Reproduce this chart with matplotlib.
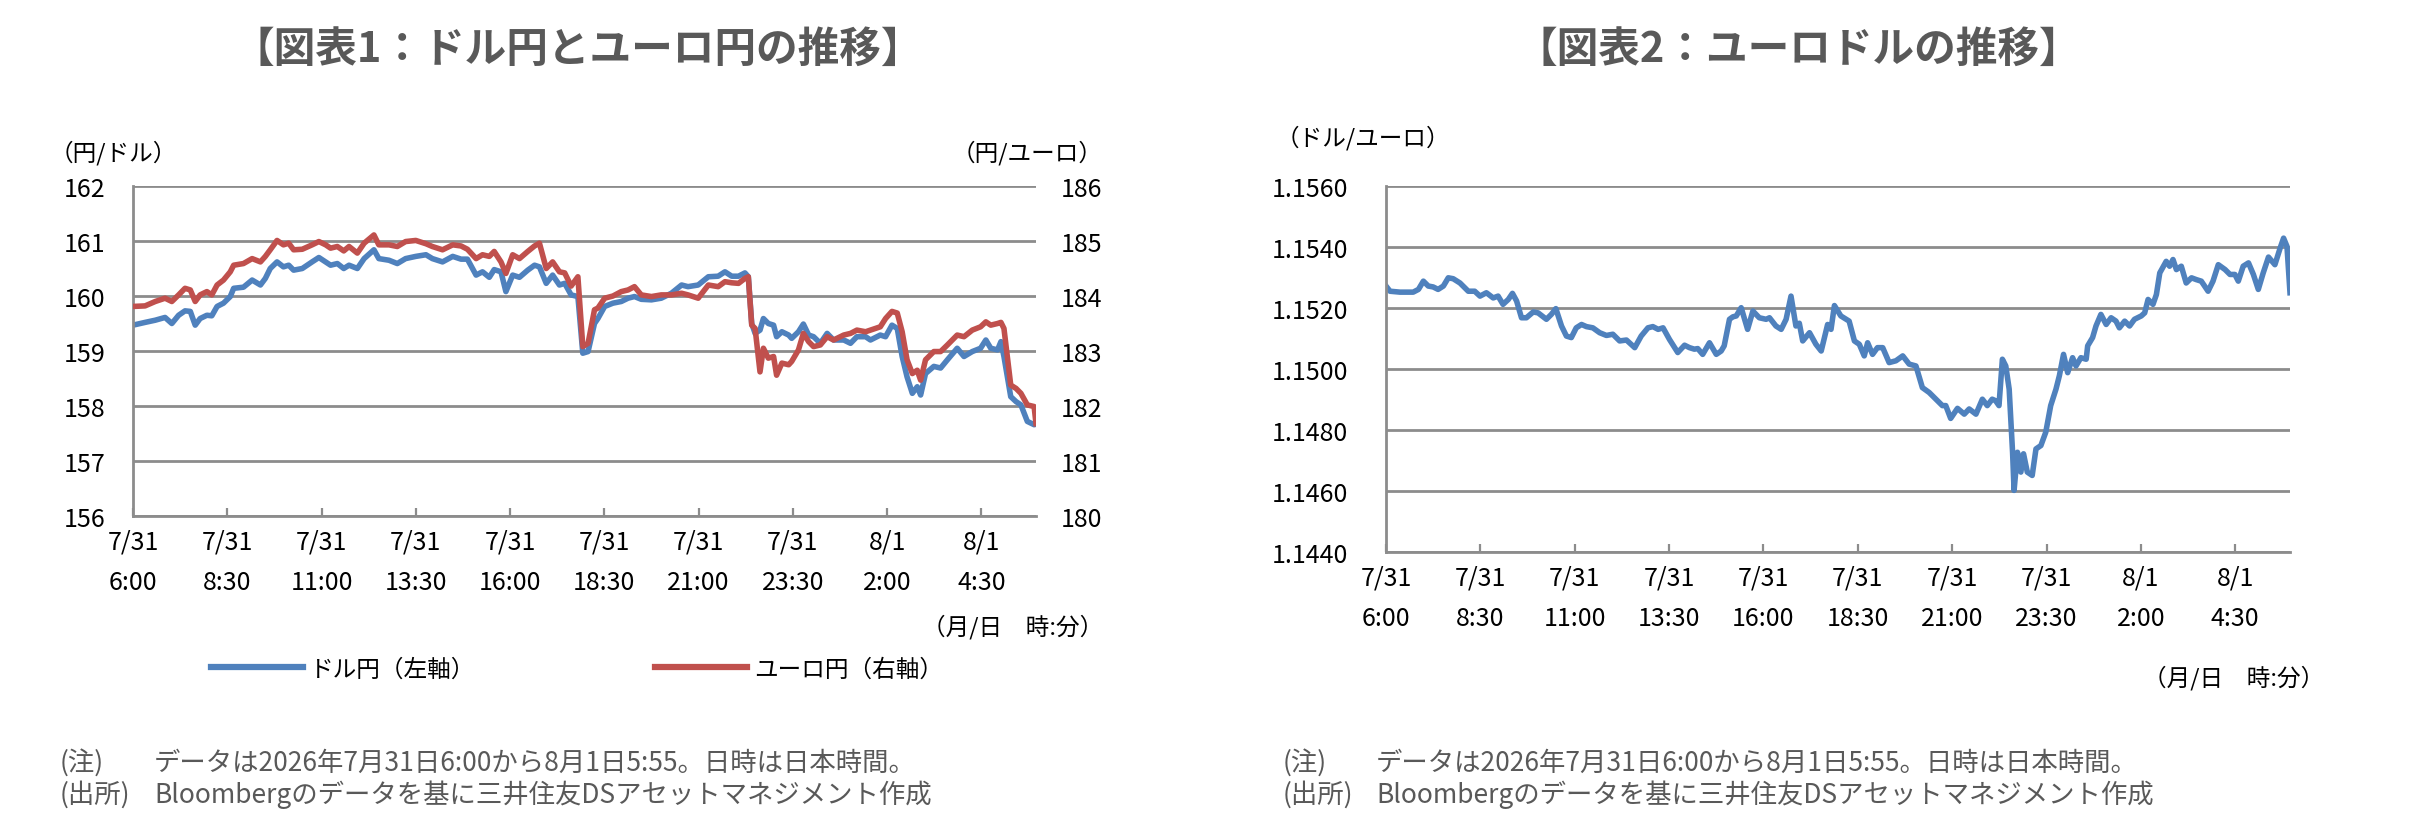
import matplotlib
matplotlib.use("Agg")
import matplotlib.pyplot as plt
from matplotlib.ticker import FixedLocator, FormatStrFormatter

plt.rcParams['font.family'] = ['Noto Sans CJK JP', 'DejaVu Sans']

# ---------------- data ----------------
# hours elapsed since 7/31 6:00 (JST)
jpy_hours = [0.0, 0.32, 0.59, 0.85, 1.03, 1.21, 1.38, 1.52, 1.65, 1.78, 1.96, 2.09, 2.23, 2.4, 2.58, 2.67,
             2.93, 3.16, 3.38, 3.51, 3.64, 3.82, 3.99, 4.13, 4.26, 4.49, 4.75, 4.93, 5.11, 5.24, 5.42, 5.59,
             5.73, 5.95, 6.13, 6.39, 6.52, 6.79, 7.01, 7.23, 7.5, 7.77, 7.94, 8.21,
             8.48, 8.70, 8.87, 9.10, 9.27, 9.45, 9.58, 9.76, 9.89, 10.07, 10.25, 10.47, 10.65, 10.78, 10.96,
             11.13, 11.31, 11.45, 11.62, 11.80, 11.93, 12.07, 12.24, 12.33, 12.51, 12.73, 12.95, 13.13, 13.30,
             13.48, 13.75, 14.01, 14.28, 14.55, 14.72, 14.99, 15.26, 15.52, 15.70, 15.88, 16.06, 16.23,
             16.32, 16.41, 16.50, 16.63, 16.72, 16.85, 16.99, 17.07, 17.21, 17.39, 17.47, 17.65, 17.78, 17.92,
             18.05, 18.23, 18.41, 18.58, 18.85, 19.03, 19.20, 19.43, 19.56, 19.82, 19.96, 20.13, 20.27, 20.40,
             20.53, 20.67, 20.80, 20.89, 21.02, 21.24, 21.42, 21.60, 21.86, 22.04, 22.26, 22.48, 22.62, 22.75,
             22.93, 23.02, 23.10, 23.28, 23.42, 23.55, 23.72, 23.90, 23.95]

usdjpy = [159.47, 159.52, 159.56, 159.61, 159.50, 159.65, 159.73, 159.72, 159.47, 159.59, 159.65, 159.64,
          159.81, 159.87, 159.99, 160.14, 160.16, 160.29, 160.20, 160.32, 160.50, 160.62, 160.53, 160.56,
          160.47, 160.50, 160.62, 160.70, 160.62, 160.56, 160.59, 160.50, 160.56, 160.50, 160.68, 160.84,
          160.68, 160.65, 160.59, 160.68, 160.72, 160.75, 160.68, 160.62,
          160.72, 160.67, 160.67, 160.38, 160.44, 160.34, 160.48, 160.44, 160.08, 160.38, 160.34, 160.47,
          160.56, 160.53, 160.23, 160.38, 160.20, 160.23, 160.02, 159.99, 158.96, 158.99, 159.50, 159.59,
          159.81, 159.87, 159.90, 159.96, 159.99, 159.94, 159.93, 159.96, 160.05, 160.20, 160.17, 160.20,
          160.35, 160.36, 160.44, 160.36, 160.36, 160.42,
          160.35, 159.50, 159.32, 159.38, 159.59, 159.50, 159.47, 159.26, 159.35, 159.29, 159.23, 159.35,
          159.49, 159.29, 159.26, 159.14, 159.32, 159.20, 159.20, 159.14, 159.26, 159.26, 159.20, 159.29,
          159.26, 159.47, 159.41, 158.90, 158.53, 158.23, 158.35, 158.20, 158.59, 158.72, 158.69, 158.84,
          159.05, 158.90, 158.99, 159.05, 159.20, 159.05, 159.02, 159.17, 158.90, 158.17, 158.08, 158.02,
          157.72, 157.66, 157.67]

eurjpy = [183.81, 183.82, 183.90, 183.96, 183.90, 184.02, 184.14, 184.11, 183.90, 184.02, 184.08, 184.02,
          184.20, 184.29, 184.44, 184.56, 184.59, 184.68, 184.62, 184.72, 184.84, 185.01, 184.93, 184.96,
          184.84, 184.85, 184.93, 184.99, 184.93, 184.87, 184.90, 184.82, 184.90, 184.78, 184.96, 185.11,
          184.93, 184.93, 184.90, 184.99, 185.01, 184.95, 184.90, 184.84,
          184.93, 184.91, 184.85, 184.68, 184.75, 184.72, 184.81, 184.62, 184.41, 184.75, 184.68, 184.81,
          184.91, 184.96, 184.50, 184.62, 184.44, 184.42, 184.18, 184.35, 183.08, 183.14, 183.75, 183.78,
          183.96, 184.00, 184.08, 184.11, 184.17, 184.02, 183.99, 184.02, 184.02, 184.05, 184.02, 183.96,
          184.20, 184.17, 184.26, 184.24, 184.23, 184.32,
          184.35, 183.47, 183.41, 182.62, 183.05, 182.87, 182.90, 182.56, 182.78, 182.75, 182.81, 183.02,
          183.32, 183.17, 183.08, 183.11, 183.26, 183.20, 183.29, 183.32, 183.38, 183.35, 183.38, 183.44,
          183.59, 183.72, 183.69, 183.35, 182.84, 182.59, 182.65, 182.47, 182.84, 182.99, 182.99, 183.11,
          183.29, 183.26, 183.38, 183.44, 183.53, 183.47, 183.50, 183.52, 183.41, 182.38, 182.32, 182.23,
          182.02, 181.99, 181.68]

usd_hours = [0.0, 0.106, 0.37, 0.72, 0.86, 0.99, 1.12, 1.25, 1.38, 1.52, 1.65, 1.78, 1.96, 2.18, 2.35, 2.49,
             2.66, 2.84, 2.97, 3.10, 3.24, 3.35, 3.46, 3.59, 3.72, 3.90, 4.03, 4.25, 4.38, 4.50, 4.65, 4.78,
             4.91, 5.04, 5.18, 5.31, 5.48, 5.66, 5.84, 6.01, 6.19, 6.37, 6.59, 6.76, 6.94, 7.07, 7.21, 7.34,
             7.51, 7.73, 7.91, 8.04,
             8.17, 8.26, 8.39, 8.57, 8.75, 8.88, 8.96, 9.10, 9.19, 9.28, 9.41, 9.58, 9.72, 9.89, 10.07, 10.16,
             10.33, 10.47, 10.60, 10.73, 10.86, 10.95, 11.04, 11.22, 11.39, 11.53, 11.70, 11.79, 11.88, 12.05,
             12.27, 12.41, 12.54, 12.67, 12.76, 12.89, 13.02, 13.16, 13.33, 13.51, 13.69, 13.86, 14.04, 14.21,
             14.39, 14.57, 14.74, 14.83, 14.96, 15.14, 15.32, 15.45, 15.63, 15.80,
             15.93, 16.06, 16.15, 16.24, 16.33, 16.42, 16.51, 16.60, 16.64, 16.73, 16.82, 16.89, 16.99, 17.12,
             17.22, 17.35, 17.48, 17.61, 17.75, 17.84, 17.95, 18.06, 18.19, 18.28, 18.41, 18.55, 18.59, 18.72,
             18.81, 18.94, 19.08, 19.21, 19.34, 19.43, 19.57, 19.70, 19.83, 20.01, 20.10, 20.19, 20.32, 20.41,
             20.50, 20.67, 20.76, 20.85, 20.94, 21.07, 21.20, 21.34, 21.47, 21.60, 21.78, 21.91, 22.05, 22.23,
             22.36, 22.49, 22.58, 22.71, 22.85, 22.98, 23.11, 23.24, 23.38, 23.55, 23.69, 23.78, 23.87, 23.95]

eurusd = [1.15272, 1.15255, 1.15252, 1.15252, 1.15261, 1.15288, 1.15272, 1.15269, 1.15261, 1.15272,
          1.15299, 1.15296, 1.15282, 1.15255, 1.15255, 1.15239, 1.15250, 1.15233, 1.15239, 1.15212,
          1.15228, 1.15248, 1.15223, 1.15168, 1.15168, 1.15187, 1.15184, 1.15163, 1.15179, 1.15198,
          1.15141, 1.15108, 1.15103, 1.15135, 1.15146, 1.15139, 1.15135, 1.15119, 1.15110, 1.15114,
          1.15092, 1.15095, 1.15070, 1.15108, 1.15135, 1.15139, 1.15130, 1.15135, 1.15097, 1.15054,
          1.15078, 1.15070,
          1.15065, 1.15067, 1.15048, 1.15086, 1.15048, 1.15059, 1.15076, 1.15163, 1.15171, 1.15174,
          1.15201, 1.15130, 1.15190, 1.15168, 1.15163, 1.15168, 1.15141, 1.15130, 1.15163, 1.15239,
          1.15141, 1.15150, 1.15092, 1.15119, 1.15081, 1.15059, 1.15146, 1.15130, 1.15208, 1.15174,
          1.15157, 1.15092, 1.15081, 1.15043, 1.15086, 1.15048, 1.15070, 1.15070, 1.15021, 1.15027,
          1.15043, 1.15016, 1.15010, 1.14939, 1.14923, 1.14901, 1.14880, 1.14880, 1.14838, 1.14871,
          1.14852, 1.14869, 1.14852, 1.14901,
          1.14880, 1.14901, 1.14896, 1.14880, 1.15032, 1.15010, 1.14934, 1.14727, 1.14602, 1.14727,
          1.14662, 1.14722, 1.14662, 1.14651, 1.14738, 1.14749, 1.14793, 1.14880, 1.14934, 1.14978,
          1.15048, 1.14988, 1.15037, 1.15010, 1.15037, 1.15032, 1.15076, 1.15103, 1.15141, 1.15179,
          1.15146, 1.15168, 1.15157, 1.15135, 1.15157, 1.15141, 1.15163, 1.15174, 1.15184, 1.15228,
          1.15212, 1.15244, 1.15315, 1.15353, 1.15337, 1.15359, 1.15326, 1.15337, 1.15282, 1.15299,
          1.15293, 1.15288, 1.15255, 1.15288, 1.15342, 1.15326, 1.15310, 1.15310, 1.15288, 1.15337,
          1.15348, 1.15310, 1.15261, 1.15315, 1.15367, 1.15342, 1.15397, 1.15429, 1.15402, 1.15250]

tick_hours = [0, 2.5, 5, 7.5, 10, 12.5, 15, 17.5, 20, 22.5]
tick_dates = ['7/31', '7/31', '7/31', '7/31', '7/31', '7/31', '7/31', '7/31', '8/1', '8/1']
tick_times = ['6:00', '8:30', '11:00', '13:30', '16:00', '18:30', '21:00', '23:30', '2:00', '4:30']
tick_labels = [d + '\n' + t for d, t in zip(tick_dates, tick_times)]

usdjpy_ticks = [156, 157, 158, 159, 160, 161, 162]
eurjpy_ticks = [180, 181, 182, 183, 184, 185, 186]
eurusd_ticks = [1.1440, 1.1460, 1.1480, 1.1500, 1.1520, 1.1540, 1.1560]

title1 = '【図表1：ドル円とユーロ円の推移】'
title2 = '【図表2：ユーロドルの推移】'
label_usd = 'ドル円（左軸）'
label_eur = 'ユーロ円（右軸）'
note_head = '(注)'
note_text = 'データは2026年7月31日6:00から8月1日5:55。日時は日本時間。'
src_head = '(出所)'
src_text = 'Bloombergのデータを基に三井住友DSアセットマネジメント作成'

# ---------------- style ----------------
W, H = 2419, 828
BLUE = '#4F81BD'
RED = '#C0504D'
GRID = '#8C8C8C'
TXTGRAY = '#595959'
LW = 4.0
TICKFS = 18
LABFS = 17
NOTEFS = 19

fig = plt.figure(figsize=(W / 100, H / 100), dpi=100)


def fx(px):
    return px / W


def fy(py):
    return 1 - py / H


def style_axis(ax, xmax):
    ax.set_xlim(0, xmax)
    for s in ['top', 'right']:
        ax.spines[s].set_visible(False)
    for s in ['left', 'bottom']:
        ax.spines[s].set_color(GRID)
        ax.spines[s].set_linewidth(2.0)
    ax.xaxis.set_major_locator(FixedLocator(tick_hours))
    ax.set_xticklabels(tick_labels)
    ax.tick_params(axis='x', direction='in', length=6, width=1.6, color=GRID,
                   labelsize=TICKFS, pad=9)
    for lab in ax.get_xticklabels():
        lab.set_linespacing(1.75)
    ax.yaxis.grid(True, color=GRID, linewidth=2.0)
    ax.set_axisbelow(True)


# ---------------- chart 1 ----------------
ax1 = fig.add_axes([fx(133), fy(517), fx(1036) - fx(133), fy(187) - fy(517)])
style_axis(ax1, 23.95)
ax1.set_ylim(156, 162)
ax1.set_yticks(usdjpy_ticks)
ax1.tick_params(axis='y', length=0, labelsize=TICKFS, pad=20)
l1, = ax1.plot(jpy_hours, usdjpy, color=BLUE, lw=LW, solid_joinstyle='round', label=label_usd)

ax1b = ax1.twinx()
ax1b.set_ylim(180, 186)
ax1b.set_yticks(eurjpy_ticks)
ax1b.tick_params(axis='y', length=0, labelsize=TICKFS, pad=18)
for s in ax1b.spines.values():
    s.set_visible(False)
l2, = ax1b.plot(jpy_hours, eurjpy, color=RED, lw=LW, solid_joinstyle='round', label=label_eur)

fig.text(fx(578), fy(50), title1, ha='center', va='center', fontsize=30,
         fontweight='bold', color=TXTGRAY)
fig.text(fx(50), fy(153), '（円/ドル）', ha='left', va='center', fontsize=LABFS)
fig.text(fx(1103), fy(153), '（円/ユーロ）', ha='right', va='center', fontsize=LABFS)
fig.text(fx(1103), fy(627), '（月/日　時:分）', ha='right', va='center', fontsize=LABFS)

leg = fig.legend(handles=[l1, l2], loc='center', bbox_to_anchor=(fx(577), fy(670)), ncol=2,
                 frameon=False, fontsize=LABFS, handlelength=3.9, handletextpad=0.3,
                 columnspacing=7.6)
for h in leg.get_lines():
    h.set_linewidth(4.5)

fig.text(fx(60), fy(763), note_head, ha='left', va='center', fontsize=NOTEFS, color=TXTGRAY)
fig.text(fx(154), fy(763), note_text, ha='left', va='center', fontsize=NOTEFS, color=TXTGRAY)
fig.text(fx(60), fy(795), src_head, ha='left', va='center', fontsize=NOTEFS, color=TXTGRAY)
fig.text(fx(154), fy(795), src_text, ha='left', va='center', fontsize=NOTEFS, color=TXTGRAY)

# ---------------- chart 2 ----------------
ax2 = fig.add_axes([fx(1386), fy(553), fx(2290) - fx(1386), fy(187) - fy(553)])
style_axis(ax2, 23.95)
ax2.set_ylim(1.1440, 1.1560)
ax2.set_yticks(eurusd_ticks)
ax2.yaxis.set_major_formatter(FormatStrFormatter('%.4f'))
ax2.tick_params(axis='y', length=0, labelsize=TICKFS, pad=27)
ax2.plot(usd_hours, eurusd, color=BLUE, lw=LW, solid_joinstyle='round')

fig.text(fx(1798), fy(50), title2, ha='center', va='center', fontsize=30,
         fontweight='bold', color=TXTGRAY)
fig.text(fx(1276), fy(138), '（ドル/ユーロ）', ha='left', va='center', fontsize=LABFS)
fig.text(fx(2324), fy(678), '（月/日　時:分）', ha='right', va='center', fontsize=LABFS)

fig.text(fx(1283), fy(763), note_head, ha='left', va='center', fontsize=NOTEFS, color=TXTGRAY)
fig.text(fx(1376), fy(763), note_text, ha='left', va='center', fontsize=NOTEFS, color=TXTGRAY)
fig.text(fx(1283), fy(795), src_head, ha='left', va='center', fontsize=NOTEFS, color=TXTGRAY)
fig.text(fx(1376), fy(795), src_text, ha='left', va='center', fontsize=NOTEFS, color=TXTGRAY)

fig.savefig('out.png', dpi=100, facecolor='white')
